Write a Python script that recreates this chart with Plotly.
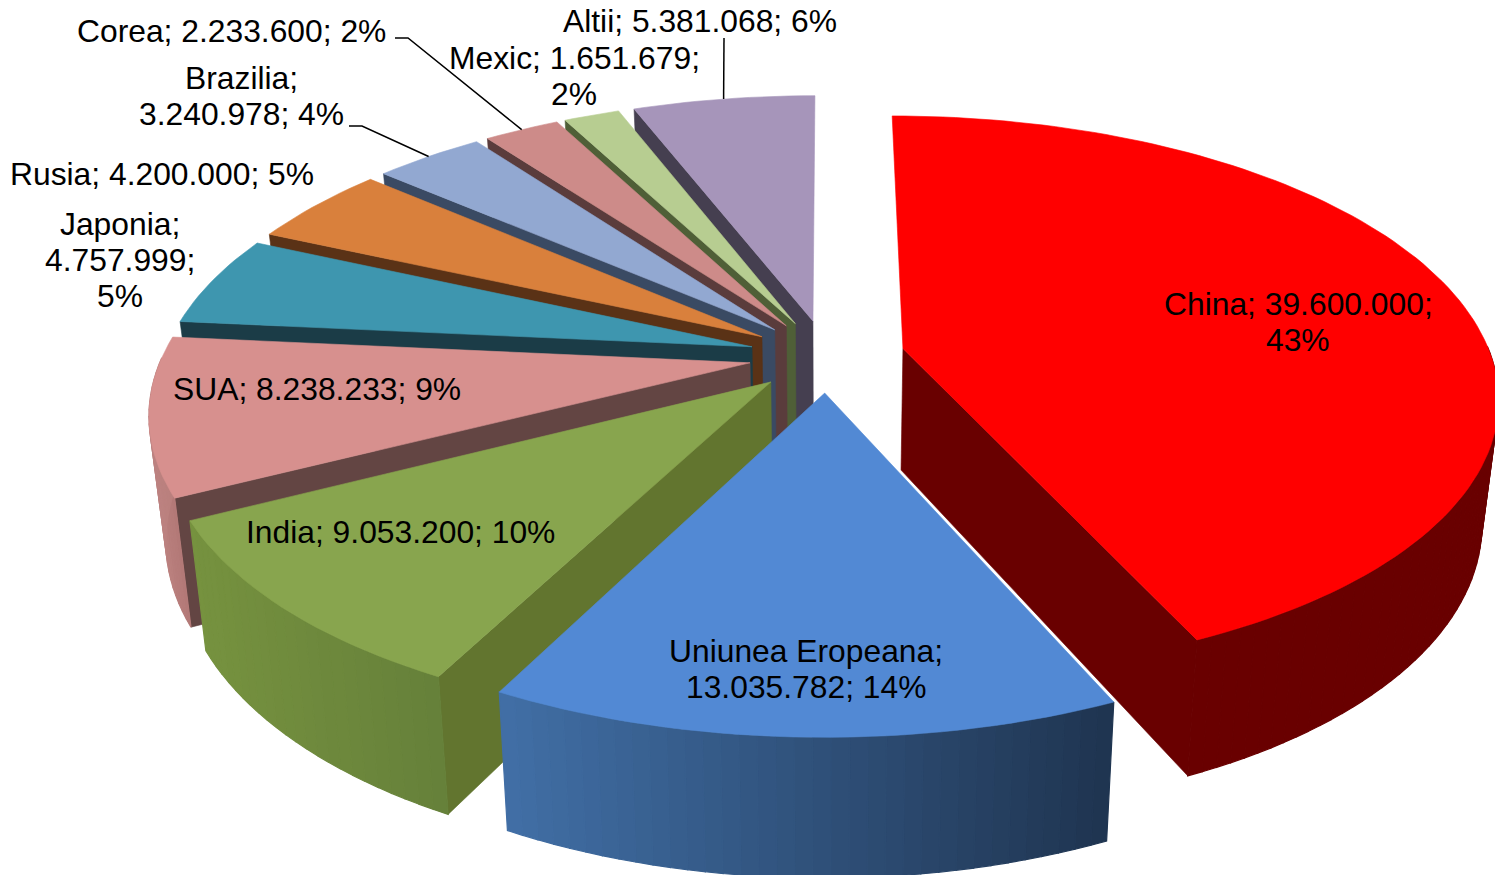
import math
import plotly.graph_objects as go

categories = ["China", "Uniunea Eropeana", "India", "SUA", "Japonia", "Rusia", "Brazilia", "Corea", "Mexic", "Altii"]
values = [39600000, 13035782, 9053200, 8238233, 4757999, 4200000, 3240978, 2233600, 1651679, 5381068]
label_lines = [
    ["China; 39.600.000;", "43%"],
    ["Uniunea Eropeana;", "13.035.782; 14%"],
    ["India; 9.053.200; 10%"],
    ["SUA; 8.238.233; 9%"],
    ["Japonia;", "4.757.999;", "5%"],
    ["Rusia; 4.200.000; 5%"],
    ["Brazilia;", "3.240.978; 4%"],
    ["Corea; 2.233.600; 2%"],
    ["Mexic; 1.651.679;", "2%"],
    ["Altii; 5.381.068; 6%"],
]
label_pos = [(1298, 304), (806, 651), (400, 532), (317, 389), (120, 224), (162, 174),
             (241, 78), (231, 31), (574, 58), (700, 21)]
top_colors = ["#FF0000", "#5289D4", "#88A54E", "#D7908E", "#3E96AF", "#D9803C", "#92A8D1", "#CD8B89", "#B7CD91", "#A695BA"]
side_colors = ["#690000", "#2F4F7A", "#62752F", "#634543", "#1B3C47", "#5A3216", "#3A4A63", "#5A3C3C", "#4F5F37", "#453F50"]
wall_left = ["#690000", "#416FA6", "#76923F", "#BC8280", "#2F7286", "#A5622D", "#6F80A0", "#9C6A68", "#8B9C6E", "#7E718E"]
wall_right = ["#690000", "#1F3450", "#66803A", "#B27876", "#2F7286", "#A5622D", "#6F80A0", "#9C6A68", "#8B9C6E", "#7E718E"]
leaders = {"Corea": (395, 38, 408, 38), "Brazilia": (349, 126, 362, 126), "Altii": (724, 38, 724, 38)}

X0, Y0 = 827, 356
R, K, D, EXPLODE, H0, F = 588, 0.465, 3545, 78, 122, 0.975


def project(gx, gy, bottom=False):
    s = D / (D - gy)
    if bottom:
        return X0 + gx * s * F, Y0 + gy * K * s * F + H0 * s
    return X0 + gx * s, Y0 + gy * K * s


def ground(mid, ang, r):
    ex, ey = EXPLODE * math.sin(mid), -EXPLODE * math.cos(mid)
    return ex + r * math.sin(ang), ey - r * math.cos(ang)


def mix(c1, c2, t):
    a = [int(c1[i:i + 2], 16) for i in (1, 3, 5)]
    b = [int(c2[i:i + 2], 16) for i in (1, 3, 5)]
    return "rgb(%d,%d,%d)" % tuple(round(p + (q - p) * t) for p, q in zip(a, b))


fig = go.Figure()


def poly(pts, color, width=0.6):
    xs = [p[0] for p in pts] + [pts[0][0]]
    ys = [p[1] for p in pts] + [pts[0][1]]
    fig.add_trace(go.Scatter(x=xs, y=ys, mode="lines", fill="toself", fillcolor=color,
                             line=dict(color=color, width=width), hoverinfo="skip", showlegend=False))


total = sum(values)
spans = []
a = 0.0
for v in values:
    b = a + v / total * 2 * math.pi
    spans.append((a, b))
    a = b

order = [9, 8, 7, 6, 5, 4, 3, 2, 1, 0]
for i in order:
    a, b = spans[i]
    mid = (a + b) / 2
    n = max(6, int((b - a) * 40))
    angs = [a + (b - a) * j / n for j in range(n + 1)]
    ap = ground(mid, mid, 0)
    ga, gb = ground(mid, a, R), ground(mid, b, R)
    # radial walls, only those turned towards the viewer
    if math.sin(a) < -1e-6:
        poly([project(*ap), project(*ga), project(*ga, True), project(*ap, True)], side_colors[i])
    if math.sin(b) > 1e-6:
        poly([project(*ap), project(*gb), project(*gb, True), project(*ap, True)], side_colors[i])
    # outer wall, front half only, shaded left to right
    pts = [ground(mid, t, R) for t in angs]
    xs = [project(*p)[0] for p in pts]
    lo, hi = min(xs), max(xs)
    for j in range(n):
        tm = (angs[j] + angs[j + 1]) / 2
        if math.cos(tm) > 0.02:
            continue
        t = ((xs[j] + xs[j + 1]) / 2 - lo) / (hi - lo)
        poly([project(*pts[j]), project(*pts[j + 1]), project(*pts[j + 1], True), project(*pts[j], True)],
             mix(wall_left[i], wall_right[i], t), 1.2)
    # top face
    poly([project(*ap)] + [project(*p) for p in pts], top_colors[i])

# leader lines
for name, (x1, y1, x2, y2) in leaders.items():
    i = categories.index(name)
    a, b = spans[i]
    mid = (a + b) / 2
    ex, ey = project(*ground(mid, mid, R))
    fig.add_trace(go.Scatter(x=[x1, x2, ex], y=[y1, y2, ey], mode="lines",
                             line=dict(color="#000000", width=1.5), hoverinfo="skip", showlegend=False))

annotations = []
for lines, (lx, ly) in zip(label_lines, label_pos):
    for k, line in enumerate(lines):
        annotations.append(dict(x=lx, y=ly + k * 36, text=line, showarrow=False, xref="x", yref="y",
                                xanchor="center", yanchor="middle",
                                font=dict(family="Liberation Sans", size=31.8, color="#000000")))

fig.update_layout(
    width=1495, height=875, margin=dict(l=0, r=0, t=0, b=0),
    paper_bgcolor="#FFFFFF", plot_bgcolor="#FFFFFF", showlegend=False,
    xaxis=dict(range=[0, 1495], visible=False, fixedrange=True),
    yaxis=dict(range=[875, 0], visible=False, fixedrange=True),
    annotations=annotations,
)
fig.write_html("out.html", config={"displayModeBar": False},
               post_script="document.body.style.margin='0';document.documentElement.style.overflow='hidden';")
